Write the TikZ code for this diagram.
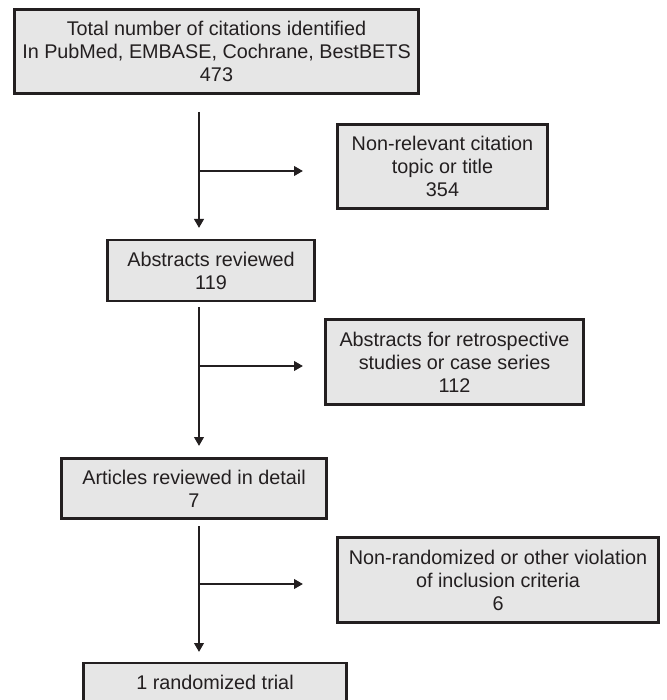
\documentclass[tikz,border=0pt]{standalone}
\usepackage{fontspec}
\setmainfont{Liberation Sans}
\usetikzlibrary{arrows.meta}
\definecolor{ink}{RGB}{35,31,32}
\definecolor{boxfill}{RGB}{230,230,230}
\begin{document}
\begin{tikzpicture}[x=1pt,y=-1pt,
  flowbox/.style={draw=ink, fill=boxfill, line width=2.8pt, rectangle, inner sep=0pt,
    align=center, text=ink, font=\fontsize{19.8}{23}\selectfont},
  flowarrow/.style={draw=ink, line width=2.5pt, -{Triangle[length=9pt,width=9.5pt]}}]
\clip (0,0) rectangle (666,700);
\fill[white] (0,0) rectangle (666,700);
% boxes
\node[flowbox, minimum width=404pt, minimum height=84pt] (total) at (216.5,51.5)
  {Total number of citations identified\\In PubMed, EMBASE, Cochrane, BestBETS\\473};
\node[flowbox, minimum width=210pt, minimum height=84pt] (nonrel) at (442.5,166.5)
  {Non-relevant citation\\topic or title\\354};
\node[flowbox, minimum width=207pt, minimum height=61pt] (abstracts) at (211,270.5)
  {Abstracts reviewed\\119};
\node[flowbox, minimum width=258pt, minimum height=85pt] (retro) at (454.5,362)
  {Abstracts for retrospective\\studies or case series\\112};
\node[flowbox, minimum width=265pt, minimum height=60pt] (articles) at (194,488.5)
  {Articles reviewed in detail\\7};
\node[flowbox, minimum width=321pt, minimum height=85pt] (nonrand) at (498,580)
  {Non-randomized or other violation\\of inclusion criteria\\6};
\node[flowbox, minimum width=263pt, minimum height=62pt] (trial) at (215,694)
  {1 randomized trial\\\mbox{}};
% connector coordinates
\coordinate (s1) at (199,112);
\coordinate (e1) at (199,228);
\coordinate (j1) at (199,171);
\coordinate (t1) at (303,171);
\coordinate (s2) at (199,307);
\coordinate (e2) at (199,446);
\coordinate (j2) at (199,366);
\coordinate (t2) at (303,366);
\coordinate (s3) at (199,526);
\coordinate (e3) at (199,652);
\coordinate (j3) at (199,584);
\coordinate (t3) at (303,584);
% connectors
\draw[flowarrow] (s1) -- (e1);
\draw[flowarrow] (j1) -- (t1);
\draw[flowarrow] (s2) -- (e2);
\draw[flowarrow] (j2) -- (t2);
\draw[flowarrow] (s3) -- (e3);
\draw[flowarrow] (j3) -- (t3);
\end{tikzpicture}
\end{document}
